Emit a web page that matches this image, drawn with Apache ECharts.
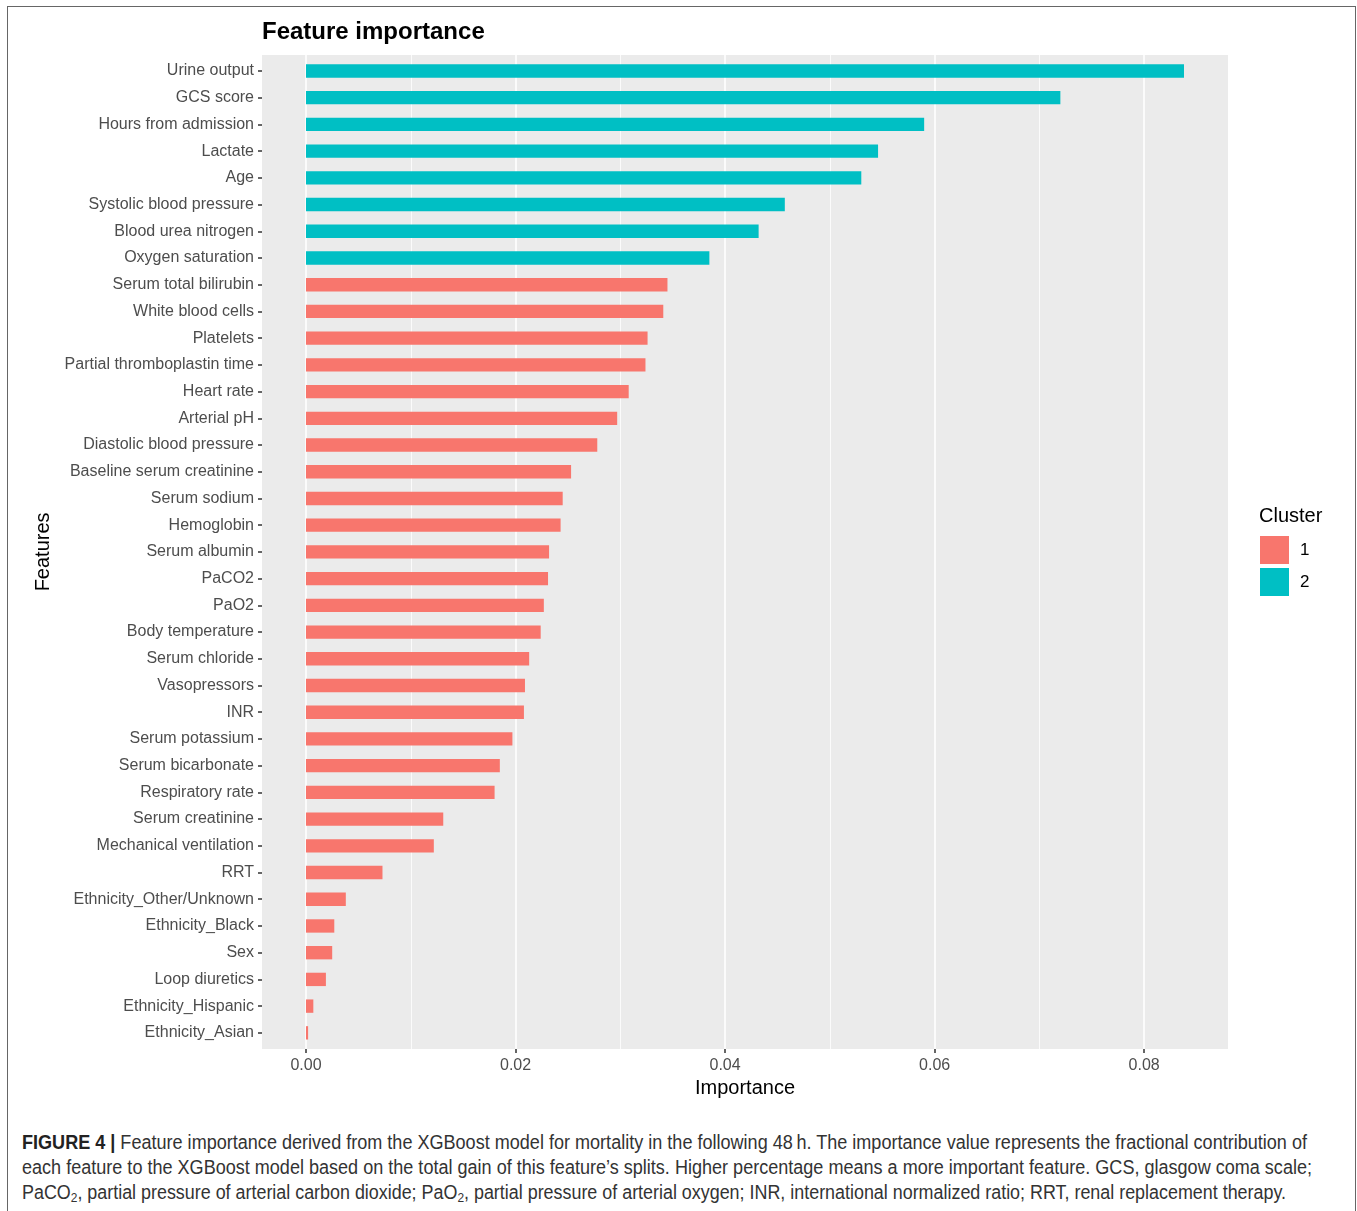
<!DOCTYPE html>
<html><head><meta charset="utf-8">
<script src="https://cdn.jsdelivr.net/npm/echarts@6/dist/echarts.min.js"></script>
<style>
html,body{margin:0;padding:0;background:#fff;}
#wrap{position:relative;width:1357px;height:1211px;overflow:hidden;}
#frame{position:absolute;left:7px;top:6px;width:1349px;height:1220px;border:1.5px solid #666;box-sizing:border-box;}
#chart{position:absolute;left:0;top:0;width:1357px;height:1125px;}
#cap{position:absolute;left:22px;top:1130px;font-family:"Liberation Sans",Arial,sans-serif;font-size:19.5px;line-height:25px;color:#333;}
#cap .ln{white-space:nowrap;width:max-content;transform-origin:0 50%;}
#cap b{color:#222;}
#cap sub{font-size:13px;vertical-align:-3px;line-height:0;}
</style></head><body>
<div id="wrap">
<div id="frame"></div>
<div id="chart"></div>
<div id="cap">
<div class="ln" data-w="1285"><b>FIGURE 4 |</b> Feature importance derived from the XGBoost model for mortality in the following 48&#8201;h. The importance value represents the fractional contribution of</div>
<div class="ln" data-w="1290">each feature to the XGBoost model based on the total gain of this feature’s splits. Higher percentage means a more important feature. GCS, glasgow coma scale;</div>
<div class="ln" data-w="1264">PaCO<sub>2</sub>, partial pressure of arterial carbon dioxide; PaO<sub>2</sub>, partial pressure of arterial oxygen; INR, international normalized ratio; RRT, renal replacement therapy.</div>
</div>
</div>
<script>
const features = ["Urine output","GCS score","Hours from admission","Lactate","Age","Systolic blood pressure","Blood urea nitrogen","Oxygen saturation","Serum total bilirubin","White blood cells","Platelets","Partial thromboplastin time","Heart rate","Arterial pH","Diastolic blood pressure","Baseline serum creatinine","Serum sodium","Hemoglobin","Serum albumin","PaCO2","PaO2","Body temperature","Serum chloride","Vasopressors","INR","Serum potassium","Serum bicarbonate","Respiratory rate","Serum creatinine","Mechanical ventilation","RRT","Ethnicity_Other/Unknown","Ethnicity_Black","Sex","Loop diuretics","Ethnicity_Hispanic","Ethnicity_Asian"];
const importance = [0.0838,0.0720,0.0590,0.0546,0.0530,0.0457,0.0432,0.0385,0.0345,0.0341,0.0326,0.0324,0.0308,0.0297,0.0278,0.0253,0.0245,0.0243,0.0232,0.0231,0.0227,0.0224,0.0213,0.0209,0.0208,0.0197,0.0185,0.0180,0.0131,0.0122,0.0073,0.0038,0.0027,0.0025,0.0019,0.0007,0.0002];
const cluster = [2,2,2,2,2,2,2,2,1,1,1,1,1,1,1,1,1,1,1,1,1,1,1,1,1,1,1,1,1,1,1,1,1,1,1,1,1];
const clusterNames = ["1","2"];
const xTicks = [0,0.02,0.04,0.06,0.08];
const xMinorTicks = [0.01,0.03,0.05,0.07];

// caption line fitting
document.querySelectorAll('#cap .ln').forEach(el => {
  const w = el.getBoundingClientRect().width;
  const target = +el.dataset.w;
  el.style.transform = 'scaleX(' + (target / w) + ')';
});

const colors = {"1":"#F8766D","2":"#00BFC4"};
const font = "'Liberation Sans', Arial, sans-serif";
const X_MIN = -0.0042, X_MAX = 0.0880;
const chart = echarts.init(document.getElementById('chart'), null, {renderer:'canvas'});
const series = clusterNames.map(c => ({
  name: c, type: 'bar', barWidth: '50%', barGap: '-100%',
  xAxisIndex: 2, yAxisIndex: 1,
  itemStyle: {color: colors[c]},
  data: importance.map((v,i) => String(cluster[i]) === c ? v : '-'),
  emphasis: {disabled: true}
}));
chart.setOption({
  animation:false,
  textStyle:{fontFamily:font},
  title:[
    {text:'Feature importance', left:262, top:20, padding:0, textStyle:{fontFamily:font,fontSize:24,fontWeight:'bold',color:'#000'}},
    {text:'Cluster', left:1259, top:506, padding:0, textStyle:{fontFamily:font,fontSize:20,fontWeight:'normal',color:'#000'}}
  ],
  legend:{
    data:clusterNames, orient:'vertical', left:1260, top:536, padding:0, icon:'rect',
    itemWidth:29, itemHeight:28, itemGap:4,
    textStyle:{fontFamily:font,fontSize:17,color:'#000',padding:[0,0,0,6]},
    selectedMode:false
  },
  grid:[
    {left:262, top:55, width:966, height:994, containLabel:false, show:true, backgroundColor:'#EBEBEB', borderWidth:0},
    {left:262, top:57.6, width:966, height:988.6, containLabel:false, show:false}
  ],
  xAxis:[{
    gridIndex:0, type:'value', min:X_MIN, max:X_MAX,
    name:'Importance', nameLocation:'middle', nameGap:23,
    nameTextStyle:{fontFamily:font,fontSize:20,color:'#000'},
    axisLine:{show:false, onZero:false},
    axisTick:{show:true, length:4, lineStyle:{color:'#333',width:1.5}, customValues: xTicks},
    axisLabel:{fontFamily:font,fontSize:16,color:'#4D4D4D',margin:9, customValues: xTicks,
      formatter: v => v.toFixed(2)},
    splitLine:{show:true, lineStyle:{color:'#fff',width:1.6}}
  },{
    gridIndex:0, type:'value', min:X_MIN, max:X_MAX,
    axisLine:{show:false, onZero:false}, axisTick:{show:false, customValues: xMinorTicks},
    axisLabel:{show:false, customValues: xMinorTicks},
    splitLine:{show:true, lineStyle:{color:'#fff',width:0.8}}
  },{
    gridIndex:1, type:'value', min:X_MIN, max:X_MAX, show:false,
    axisLine:{onZero:false}, splitLine:{show:false}
  }],
  yAxis:[{
    gridIndex:0, type:'value', min:0, max:1, show:false, splitLine:{show:false}
  },{
    gridIndex:1, type:'category', data:features, inverse:true,
    name:'Features', nameLocation:'middle', nameGap:201, nameRotate:90,
    nameTextStyle:{fontFamily:font,fontSize:20,color:'#000'},
    axisLine:{show:false, onZero:false},
    axisTick:{show:true, alignWithLabel:true, length:4, lineStyle:{color:'#333',width:1.5}},
    axisLabel:{fontFamily:font,fontSize:16,color:'#4D4D4D',margin:8, interval:0, padding:[4,0,0,0]},
    splitLine:{show:false}
  }],
  series: series
});
</script>
</body></html>
